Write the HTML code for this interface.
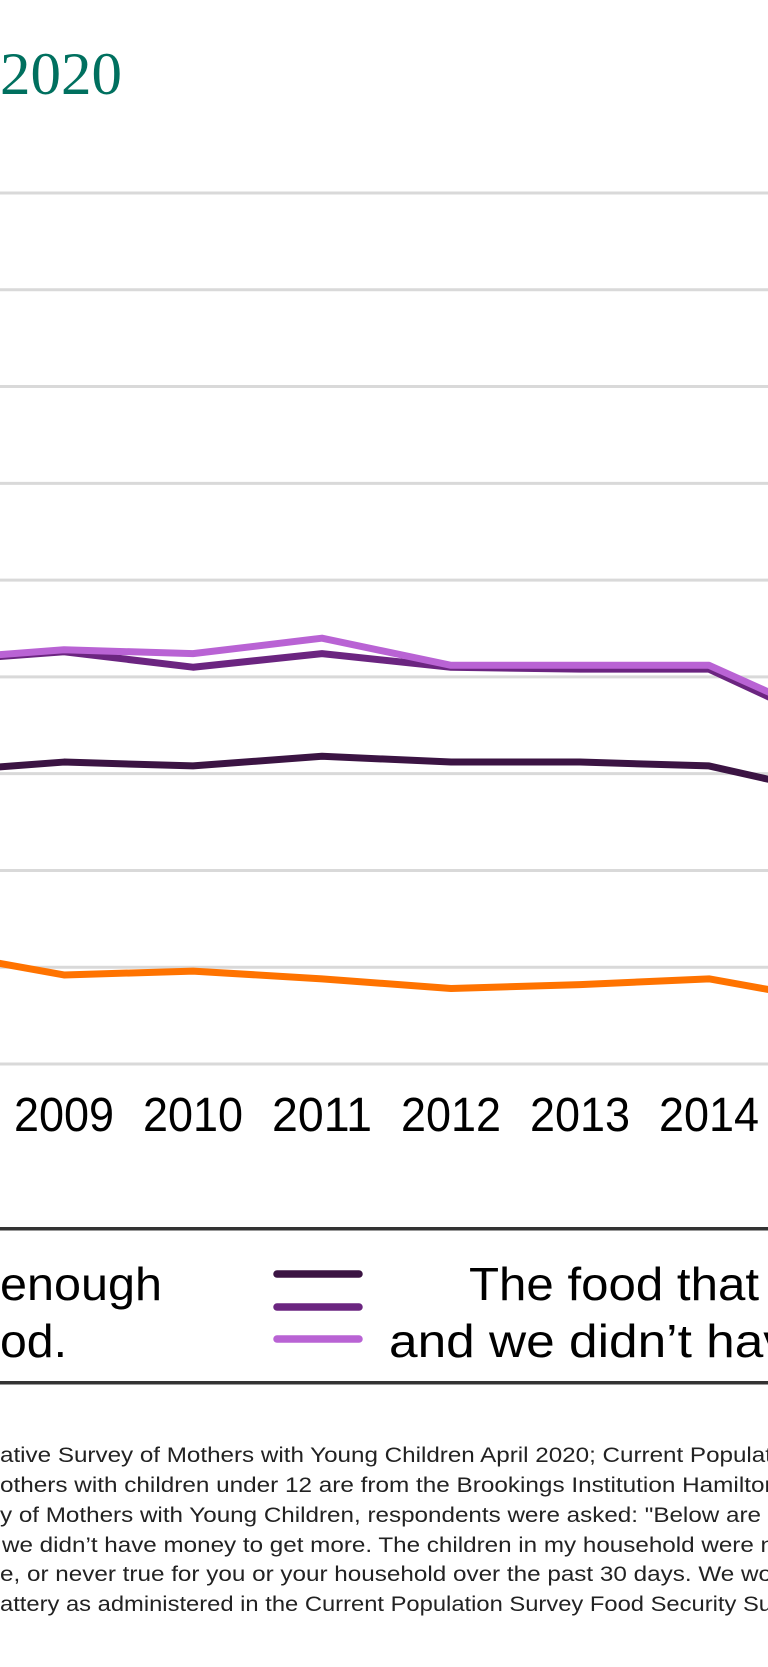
<!DOCTYPE html>
<html><head><meta charset="utf-8">
<style>
html,body{margin:0;padding:0;background:#fff;width:768px;height:1667px;overflow:hidden}
svg{display:block}
</style></head>
<body>
<svg id="chart" width="768" height="1667" viewBox="0 0 768 1667" xmlns="http://www.w3.org/2000/svg">
  <text x="0" y="94" font-family="Liberation Serif, serif" font-size="60" fill="#00705f" textLength="122" lengthAdjust="spacingAndGlyphs">2020</text>
  <g id="grid"></g>
  <g id="xaxis"></g>
  <g id="series"></g>

  <g>
    <rect x="0" y="1227" width="768" height="3.5" fill="#333"/>
    <rect x="0" y="1381" width="768" height="3.5" fill="#333"/>
    <g font-family="Liberation Sans, sans-serif" font-size="46" fill="#000">
      <text x="0" y="1300" textLength="162" lengthAdjust="spacingAndGlyphs">enough</text>
      <text x="0" y="1357" textLength="67" lengthAdjust="spacingAndGlyphs">od.</text>
    </g>
    <g>
      <line x1="277" y1="1274" x2="359" y2="1274" stroke="#3b1443" stroke-width="7.5" stroke-linecap="round"/>
      <line x1="277" y1="1307" x2="359" y2="1307" stroke="#6b2580" stroke-width="7.5" stroke-linecap="round"/>
      <line x1="277" y1="1339" x2="359" y2="1339" stroke="#b963d4" stroke-width="7.5" stroke-linecap="round"/>
      <text x="469" y="1300" font-family="Liberation Sans, sans-serif" font-size="46" fill="#000" textLength="290" lengthAdjust="spacingAndGlyphs">The food that</text>
      <text x="389" y="1357" font-family="Liberation Sans, sans-serif" font-size="46" fill="#000" textLength="400" lengthAdjust="spacingAndGlyphs">and we didn’t hav</text>
    </g>
  </g>

  <g font-family="Liberation Sans, sans-serif" font-size="21" fill="#222">
    <text x="0" y="1462" textLength="772" lengthAdjust="spacingAndGlyphs">ative Survey of Mothers with Young Children April 2020; Current Populat</text>
    <text x="0" y="1492" textLength="778" lengthAdjust="spacingAndGlyphs">others with children under 12 are from the Brookings Institution Hamilton</text>
    <text x="0" y="1522" textLength="761" lengthAdjust="spacingAndGlyphs">y of Mothers with Young Children, respondents were asked: "Below are</text>
    <text x="2" y="1552" textLength="772" lengthAdjust="spacingAndGlyphs">we didn’t have money to get more. The children in my household were n</text>
    <text x="0" y="1581" textLength="772" lengthAdjust="spacingAndGlyphs">e, or never true for you or your household over the past 30 days. We wo</text>
    <text x="0" y="1611" textLength="772" lengthAdjust="spacingAndGlyphs">attery as administered in the Current Population Survey Food Security Su</text>
  </g>
</svg>
<script>
const years = [2008, 2009, 2010, 2011, 2012, 2013, 2014, 2015];
const gridTicks = [0, 5, 10, 15, 20, 25, 30, 35, 40, 45];
const seriesLight = [20.9, 21.4, 21.2, 22.0, 20.6, 20.6, 20.6, 17.6];
const seriesMid = [20.8, 21.3, 20.5, 21.2, 20.5, 20.4, 20.4, 17.3];
const seriesDark = [15.1, 15.6, 15.4, 15.9, 15.6, 15.6, 15.4, 13.9];
const seriesOrange = [5.8, 4.6, 4.8, 4.4, 3.9, 4.1, 4.4, 3.2];

const NS = 'http://www.w3.org/2000/svg';
function xScale(yr){ return 64 + (yr - 2009) * 129; }
function yScale(v){ return 1064 - v * (871 / 45); }

const grid = document.getElementById('grid');
gridTicks.forEach(t => {
  const l = document.createElementNS(NS, 'line');
  
  
  l.setAttribute('x1', 0); l.setAttribute('x2', 768);
  l.setAttribute('y1', yScale(t)); l.setAttribute('y2', yScale(t));
  l.setAttribute('stroke', '#d9d9d9'); l.setAttribute('stroke-width', 3);
  grid.appendChild(l);
});

const xaxis = document.getElementById('xaxis');
years.forEach(yr => {
  const t = document.createElementNS(NS, 'text');
  
  
  t.setAttribute('x', xScale(yr) - 50);
  t.setAttribute('y', 1131);
  t.setAttribute('font-family', 'Liberation Sans, sans-serif');
  t.setAttribute('font-size', 48);
  t.setAttribute('textLength', 100);
  t.setAttribute('lengthAdjust', 'spacingAndGlyphs');
  t.textContent = yr;
  xaxis.appendChild(t);
});

const seriesG = document.getElementById('series');
function drawLine(vals, color, name){
  const p = document.createElementNS(NS, 'polyline');
  
  
  p.setAttribute('points', vals.map((v,i) => xScale(years[i]) + ',' + yScale(v)).join(' '));
  p.setAttribute('fill', 'none');
  p.setAttribute('stroke', color);
  p.setAttribute('stroke-width', 7);
  p.setAttribute('stroke-linejoin', 'round');
  seriesG.appendChild(p);
}
drawLine(seriesOrange, '#ff7300', 'series-orange');
drawLine(seriesDark, '#3b1443', 'series-dark-purple');
drawLine(seriesMid, '#6b2580', 'series-mid-purple');
drawLine(seriesLight, '#b963d4', 'series-light-purple');
</script>
</body></html>
